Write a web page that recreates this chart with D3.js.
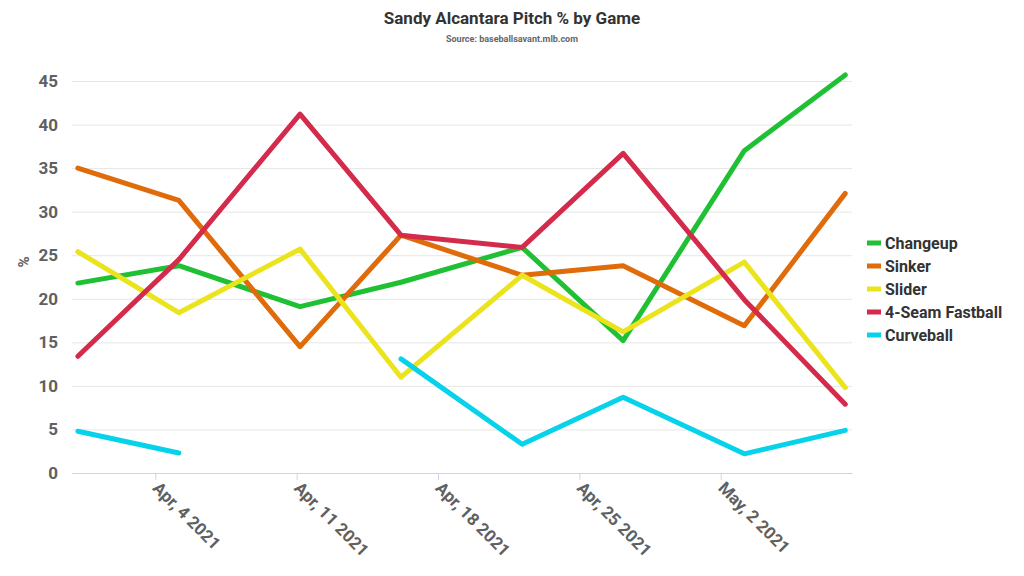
<!DOCTYPE html>
<html>
<head>
<meta charset="utf-8">
<script src="https://cdn.jsdelivr.net/npm/d3@7"></script>
<style>
  body { margin: 0; background: #fff; }
  text { font-family: Roboto, "Liberation Sans", sans-serif; }
</style>
</head>
<body>
<svg id="chart" width="1024" height="576"></svg>
<script>
    // game dates and pitch mix (% of pitches)
    var gameDates = ["2021-03-31 04:00", "2021-04-05 04:00", "2021-04-11 04:00", "2021-04-16 04:00",
                     "2021-04-22 04:00", "2021-04-27 04:00", "2021-05-03 04:00", "2021-05-08 04:00"];
    var changeup  = [21.8, 23.8, 19.1, 21.9, 25.9, 15.2, 37.0, 45.7];
    var sinker    = [35.0, 31.3, 14.5, 27.3, 22.7, 23.8, 16.9, 32.1];
    var slider    = [25.4, 18.4, 25.7, 11.0, 22.7, 16.2, 24.2, 9.8];
    var fastball  = [13.4, 24.5, 41.2, 27.3, 25.9, 36.7, 19.9, 7.9];
    var curveball = [4.8, 2.3, null, 13.1, 3.3, 8.7, 2.2, 4.9];
    var yTicks = [0, 5, 10, 15, 20, 25, 30, 35, 40, 45];
    var xTicks = ["2021-04-04 00:00", "2021-04-11 00:00", "2021-04-18 00:00", "2021-04-25 00:00", "2021-05-02 00:00"];

    var seriesNames = ["Changeup", "Sinker", "Slider", "4-Seam Fastball", "Curveball"];
    var seriesValues = [changeup, sinker, slider, fastball, curveball];
    var seriesColors = ["#20c035", "#e06b0a", "#ebe31c", "#d42b4c", "#06d2ea"];

    var parseDate = d3.timeParse("%Y-%m-%d %H:%M");
    var dates = gameDates.map(parseDate);

    var svg = d3.select("#chart");
    var plotLeft = 72, plotRight = 852, plotTop = 81, plotBottom = 473;

    var x = d3.scaleTime()
        .domain([d3.timeHour.offset(dates[0], -7), d3.timeHour.offset(dates[dates.length - 1], 8)])
        .range([plotLeft, plotRight]);
    var y = d3.scaleLinear().domain([0, 45]).range([plotBottom, plotTop]);

    // title
    svg.append("text")
        .attr("x", 512).attr("y", 24)
        .attr("text-anchor", "middle")
        .style("font-size", "17px").style("font-weight", "bold")
        .style("fill", "#333")
        .text("Sandy Alcantara Pitch % by Game");
    svg.append("text")
        .attr("x", 512).attr("y", 42)
        .attr("text-anchor", "middle")
        .style("font-size", "9px").style("font-weight", "bold")
        .style("fill", "#666")
        .text("Source: baseballsavant.mlb.com");

    // grid lines + y labels
    var yAxis = d3.axisLeft(y).tickValues(yTicks)
        .tickSize(-(plotRight - plotLeft)).tickSizeOuter(0).tickPadding(14);
    var gy = svg.append("g")
        .attr("transform", "translate(" + plotLeft + ",0)")
        .call(yAxis);
    gy.select(".domain").remove();
    gy.selectAll(".tick line").attr("stroke", "#e6e6e6");
    gy.selectAll(".tick text")
        .style("font-size", "17px").style("font-weight", "bold")
        .style("fill", "#606060");

    svg.append("text")
        .attr("transform", "translate(29,262) rotate(-90)")
        .attr("text-anchor", "middle")
        .style("font-size", "15px").style("font-weight", "bold")
        .style("fill", "#606060")
        .text("%");

    // x axis
    var xAxis = d3.axisBottom(x)
        .tickValues(xTicks.map(parseDate))
        .tickSize(7).tickSizeOuter(0)
        .tickFormat(function(d) { return d3.timeFormat("%b, %-d %Y")(d); });
    var gx = svg.append("g")
        .attr("transform", "translate(0," + plotBottom + ")")
        .call(xAxis);
    gx.select(".domain").attr("stroke", "#ccd6eb");
    gx.selectAll(".tick line").attr("stroke", "#ccd6eb");
    gx.selectAll(".tick text")
        .attr("text-anchor", "start")
        .attr("dy", null)
        .attr("transform", "translate(-4,16) rotate(45)")
        .attr("y", 0)
        .style("font-size", "17px").style("font-weight", "bold")
        .style("fill", "#606060");

    // lines
    var line = d3.line()
        .defined(function(d) { return d != null; })
        .x(function(d, i) { return x(dates[i]); })
        .y(function(d) { return y(d); });

    seriesValues.forEach(function(vals, i) {
        svg.append("path")
            .datum(vals)
            .attr("fill", "none")
            .attr("stroke", seriesColors[i])
            .attr("stroke-width", 5)
            .attr("stroke-linecap", "round")
            .attr("stroke-linejoin", "round")
            .attr("d", line);
    });

    // legend
    var legend = svg.append("g").attr("transform", "translate(867,243)");
    seriesNames.forEach(function(name, i) {
        var g = legend.append("g").attr("transform", "translate(0," + (i * 23) + ")");
        g.append("rect")
            .attr("x", 0).attr("y", -2.5)
            .attr("width", 14).attr("height", 5)
            .attr("fill", seriesColors[i]);
        g.append("text")
            .attr("x", 18).attr("y", 6)
            .style("font-size", "16px").style("font-weight", "bold")
            .style("fill", "#333")
            .text(name);
    });
</script>
</body>
</html>
